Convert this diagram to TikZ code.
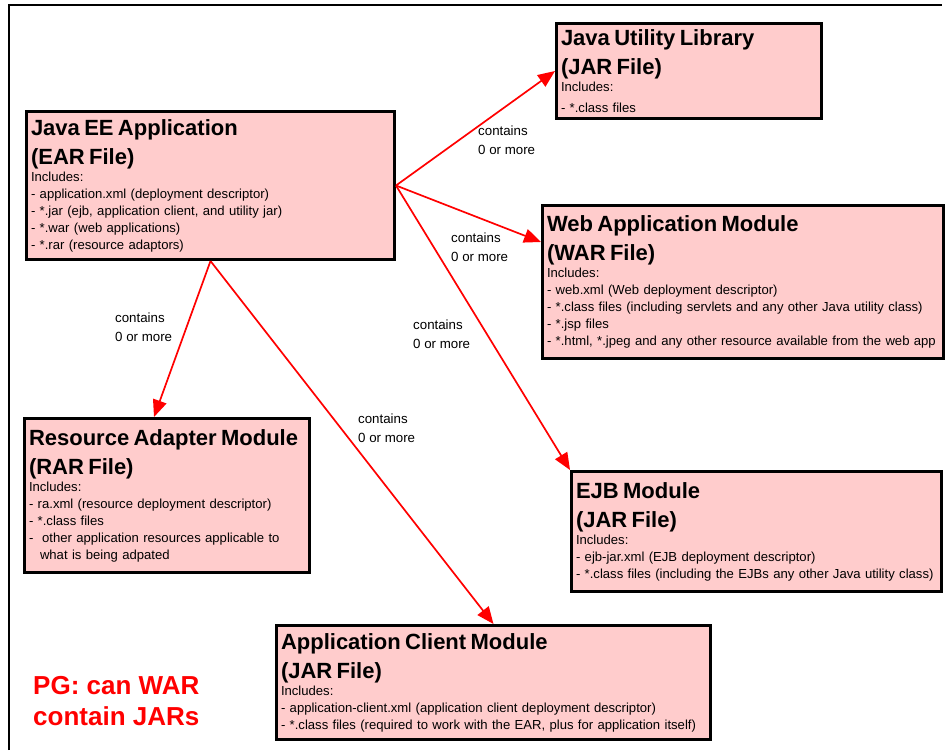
\documentclass[tikz,border=0pt]{standalone}
\usepackage{fontspec}
\setmainfont{Liberation Sans}
\usetikzlibrary{arrows.meta}
\definecolor{modfill}{RGB}{255,204,204}
\newcommand{\titlefont}{\fontsize{22}{29}\selectfont\bfseries}

\begin{document}
\begin{tikzpicture}[
        x=1pt, y=-1pt,
        module/.style={draw, rectangle, line width=3pt, fill=modfill, anchor=north west,
                       align=left, inner xsep=4.5pt, inner ysep=2pt,
                       font=\fontsize{13.1}{17}\selectfont},
        note/.style={anchor=west, align=left, inner sep=0pt,
                     font=\fontsize{13.3}{19}\selectfont},
        arrow/.style={-{Triangle[length=17pt,width=14pt]}, red, line width=1.7pt}
    ]
        \useasboundingbox (0,0) rectangle (945,750);
        \draw[line width=1.5pt] (9,750) -- (9,5) -- (942,5);

        \node[module, text width=359pt, minimum height=148pt] (ear) at (25,110)
            {{\titlefont Java EE Application\\(EAR File)\par}
             Includes:\\- application.xml (deployment descriptor)\\- *.jar (ejb, application client, and utility jar)\\- *.war (web applications)\\- *.rar (resource adaptors)};
        \node[module, text width=256pt, minimum height=95pt] (util) at (555,22)
            {{\titlefont Java Utility Library\\(JAR File)\par}
             Includes:\\[4pt]- *.class files};
        \node[module, text width=392pt, minimum height=153pt] (war) at (541,204)
            {{\titlefont Web Application Module\\(WAR File)\par}
             Includes:\\- web.xml (Web deployment descriptor)\\- *.class files (including servlets and any other Java utility class)\\- *.jsp files\\- *.html, *.jpeg and any other resource available from the web app};
        \node[module, text width=276pt, minimum height=154pt] (rar) at (23,417)
            {{\titlefont Resource Adapter Module\\(RAR File)\par}
             Includes:\\- ra.xml (resource deployment descriptor)\\- *.class files\\-\ \ other application resources applicable to\\\hspace*{11pt}what is being adpated};
        \node[module, text width=361pt, minimum height=120pt] (ejb) at (570,470)
            {{\titlefont EJB Module\\(JAR File)\par}
             Includes:\\- ejb-jar.xml (EJB deployment descriptor)\\- *.class files (including the EJBs any other Java utility class)};
        \node[module, text width=425pt, minimum height=114pt] (client) at (275,624)
            {{\titlefont Application Client Module\\(JAR File)\par}
             Includes:\\- application-client.xml (application client deployment descriptor)\\- *.class files (required to work with the EAR, plus for application itself)};

        \node[note] (c1) at (478,140) {contains\\0 or more};
        \node[note] (c2) at (451,247) {contains\\0 or more};
        \node[note] (c3) at (413,334) {contains\\0 or more};
        \node[note] (c4) at (115,327) {contains\\0 or more};
        \node[note] (c5) at (358,428) {contains\\0 or more};

        \node[anchor=west, align=left, inner sep=0pt, text=red,
              font=\fontsize{26}{31}\selectfont\bfseries] (pg) at (33,701) {PG: can WAR\\contain JARs};

        \draw[arrow] (ear.east) -- (util.west);
        \draw[arrow] (ear.east) -- ([yshift=40pt]war.west);
        \draw[arrow] (ear.east) -- (ejb.north west);
        \draw[arrow] (ear.south) -- ([xshift=-13pt]rar.north);
        \draw[arrow] (ear.south) -- (client.north);
    \end{tikzpicture}
\end{document}
